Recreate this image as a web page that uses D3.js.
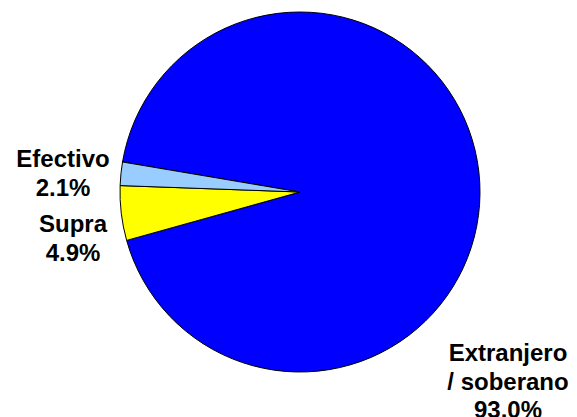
<!DOCTYPE html>
<html>
<head>
<meta charset="utf-8">
<script src="https://cdnjs.cloudflare.com/ajax/libs/d3/7.8.5/d3.min.js"></script>
<style>
    html, body { margin: 0; padding: 0; background: #fff; }
    svg { display: block; }
    .label { font-family: "Liberation Sans", Arial, sans-serif; font-weight: bold; font-size: 24px; fill: #000; }
</style>
</head>
<body>
<div id="chart"></div>
<script>
    // slice data, in drawing order (clockwise)
    var categories = ['Extranjero / soberano', 'Supra', 'Efectivo'];
    var values = [93.0, 4.9, 2.1];
    var colors = ['#0000FF', '#FFFF00', '#99CCFF'];
    var labelLines = [['Extranjero', '/ soberano', '93.0%'], ['Supra', '4.9%'], ['Efectivo', '2.1%']];

    var width = 577, height = 417;
    var cx = 300, cy = 192, radius = 180;
    // first slice starts a little past nine o'clock
    var startAngle = -80.4 * Math.PI / 180;

    // where each label block sits (center x, first baseline y)
    var labelPos = [[508, 361], [73, 232], [63, 167]];
    var lineHeight = 28.5;

    var svg = d3.select('#chart').append('svg')
            .attr('width', width)
            .attr('height', height);

    var pie = d3.pie()
            .sort(null)
            .startAngle(startAngle)
            .endAngle(startAngle + 2 * Math.PI)
            .value(function(d) { return d; });

    var arc = d3.arc()
            .innerRadius(0)
            .outerRadius(radius);

    var g = svg.append('g').attr('transform', 'translate(' + cx + ',' + cy + ')');

    g.selectAll('path').data(pie(values))
        .enter()
        .append('path')
        .attr('d', arc)
        .attr('fill', function(d, i) { return colors[i]; })
        .attr('stroke', '#000')
        .attr('stroke-width', 1)
        .attr('stroke-linejoin', 'round');

    // labels
    var labels = svg.selectAll('text.label').data(categories)
        .enter()
        .append('text')
        .attr('class', 'label')
        .attr('text-anchor', 'middle');

    labels.each(function(d, i) {
        var t = d3.select(this);
        labelLines[i].forEach(function(line, j) {
            t.append('tspan')
                .attr('x', labelPos[i][0])
                .attr('y', labelPos[i][1] + j * lineHeight)
                .text(line);
        });
    });
</script>
</body>
</html>
